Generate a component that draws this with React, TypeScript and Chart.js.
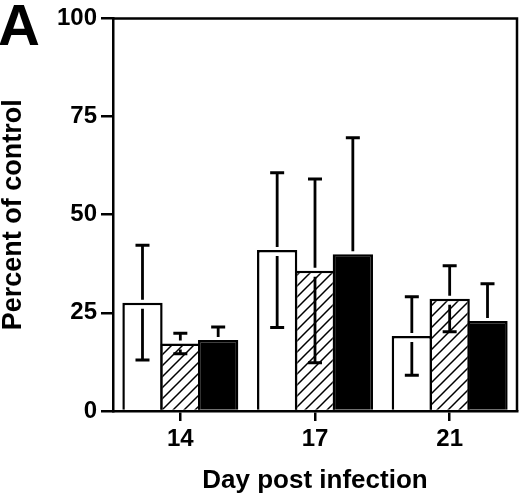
import React, { useEffect, useRef } from 'react';
import { Chart, registerables } from 'chart.js';

Chart.register(...registerables);

// values (percent of control)
const days = ['14', '17', '21'];
const whiteValues = [27.6, 41.0, 19.1];
const whiteErrors = [14.6, 19.7, 10.0];
const hatchedValues = [17.2, 35.7, 28.6];
const hatchedErrors = [2.6, 23.4, 8.4];
const blackValues = [18.1, 39.9, 22.9];
const blackErrors = [3.3, 29.7, 9.5];
const yTicks = [0, 25, 50, 75, 100];

const FONT = '"Liberation Sans", Arial, Helvetica, sans-serif';

function makeHatch(): CanvasPattern | string {
  const size = 11;
  const c = document.createElement('canvas');
  c.width = size;
  c.height = size;
  const g = c.getContext('2d');
  if (!g) return '#fff';
  g.fillStyle = '#fff';
  g.fillRect(0, 0, size, size);
  g.strokeStyle = '#000';
  g.lineWidth = 1.5;
  g.beginPath();
  g.moveTo(0, size);
  g.lineTo(size, 0);
  g.moveTo(-2, 2);
  g.lineTo(2, -2);
  g.moveTo(size - 2, size + 2);
  g.lineTo(size + 2, size - 2);
  g.stroke();
  return g.createPattern(c, 'repeat') ?? '#fff';
}

// whiskers with caps, drawn over the bars
const errorBars = {
  id: 'errorBars',
  afterDatasetsDraw(chart: any) {
    const { ctx } = chart;
    const y = chart.scales.y;
    ctx.save();
    ctx.strokeStyle = '#000';
    chart.data.datasets.forEach((ds: any, i: number) => {
      const meta = chart.getDatasetMeta(i);
      meta.data.forEach((bar: any, j: number) => {
        const v = ds.data[j] as number;
        const e = ds.errors[j] as number;
        const top = y.getPixelForValue(v + e);
        const bottom = y.getPixelForValue(v - e);
        const x = bar.x;
        ctx.lineWidth = 2.8;
        ctx.beginPath();
        ctx.moveTo(x, top);
        ctx.lineTo(x, bar.y - 3);
        ctx.moveTo(x, bar.y + 6);
        ctx.lineTo(x, bottom);
        ctx.stroke();
        ctx.lineWidth = 3;
        ctx.beginPath();
        ctx.moveTo(x - 7, top);
        ctx.lineTo(x + 7, top);
        ctx.moveTo(x - 7, bottom);
        ctx.lineTo(x + 7, bottom);
        ctx.stroke();
      });
    });
    ctx.restore();
  },
};

// top and right sides of the box
const frame = {
  id: 'frame',
  afterDatasetsDraw(chart: any) {
    const { ctx, chartArea } = chart;
    ctx.save();
    ctx.strokeStyle = '#000';
    ctx.lineWidth = 2.5;
    ctx.beginPath();
    ctx.moveTo(chartArea.left, chartArea.top);
    ctx.lineTo(chartArea.right, chartArea.top);
    ctx.lineTo(chartArea.right, chartArea.bottom);
    ctx.stroke();
    ctx.restore();
  },
};

function BarChart() {
  const canvasRef = useRef<HTMLCanvasElement | null>(null);
  const chartRef = useRef<Chart | null>(null);

  useEffect(() => {
    if (!canvasRef.current) return;
    const hatch = makeHatch();
    const common = {
      borderColor: '#000',
      borderWidth: 2.5,
      borderSkipped: 'bottom',
      categoryPercentage: 0.843,
      barPercentage: 1.065,
    };
    chartRef.current = new Chart(canvasRef.current, {
      type: 'bar',
      data: {
        labels: days,
        datasets: [
          { ...common, data: whiteValues, errors: whiteErrors, backgroundColor: '#fff' } as any,
          { ...common, data: hatchedValues, errors: hatchedErrors, backgroundColor: hatch } as any,
          { ...common, data: blackValues, errors: blackErrors, backgroundColor: '#000' } as any,
        ],
      },
      options: {
        responsive: false,
        animation: false,
        layout: { padding: { top: 13, right: 3, left: 0, bottom: 0 } },
        plugins: { legend: { display: false }, tooltip: { enabled: false } },
        scales: {
          x: {
            offset: true,
            afterFit: (s: any) => {
              s.height = 87;
            },
            grid: {
              offset: false,
              drawOnChartArea: false,
              drawTicks: true,
              tickLength: 10,
              lineWidth: 2.5,
              color: '#000',
            },
            border: { display: true, color: '#000', width: 2.5 },
            ticks: {
              color: '#000',
              padding: 4,
              maxRotation: 0,
              font: { family: FONT, size: 24, weight: 'bold' },
            },
            title: {
              display: true,
              text: 'Day post infection',
              color: '#000',
              padding: { top: 0, bottom: 4 },
              font: { family: FONT, size: 26, weight: 'bold', lineHeight: 1 },
            },
          },
          y: {
            min: 0,
            max: 100,
            afterFit: (s: any) => {
              s.width = 113;
            },
            afterBuildTicks: (s: any) => {
              s.ticks = yTicks.map((v) => ({ value: v }));
            },
            grid: {
              drawOnChartArea: false,
              drawTicks: true,
              tickLength: 12,
              lineWidth: 2.5,
              color: '#000',
            },
            border: { display: true, color: '#000', width: 2.5 },
            ticks: {
              color: '#000',
              padding: 4,
              font: { family: FONT, size: 24, weight: 'bold' },
            },
            title: {
              display: true,
              text: 'Percent of control',
              color: '#000',
              padding: { top: 0, bottom: 0 },
              font: { family: FONT, size: 27, weight: 'bold', lineHeight: 1 },
            },
          },
        },
      },
      plugins: [errorBars, frame],
    });
    return () => {
      chartRef.current?.destroy();
      chartRef.current = null;
    };
  }, []);

  return <canvas ref={canvasRef} width={520} height={498} />;
}

export default function App() {
  return (
    <div style={{ position: 'absolute', left: 0, top: 0, width: 520, height: 498, background: '#fff' }}>
      <BarChart />
      <div
        style={{
          position: 'absolute',
          left: -2,
          top: -4,
          fontFamily: FONT,
          fontWeight: 'bold',
          fontSize: 58,
          lineHeight: 1,
          color: '#000',
        }}
      >
        A
      </div>
    </div>
  );
}
